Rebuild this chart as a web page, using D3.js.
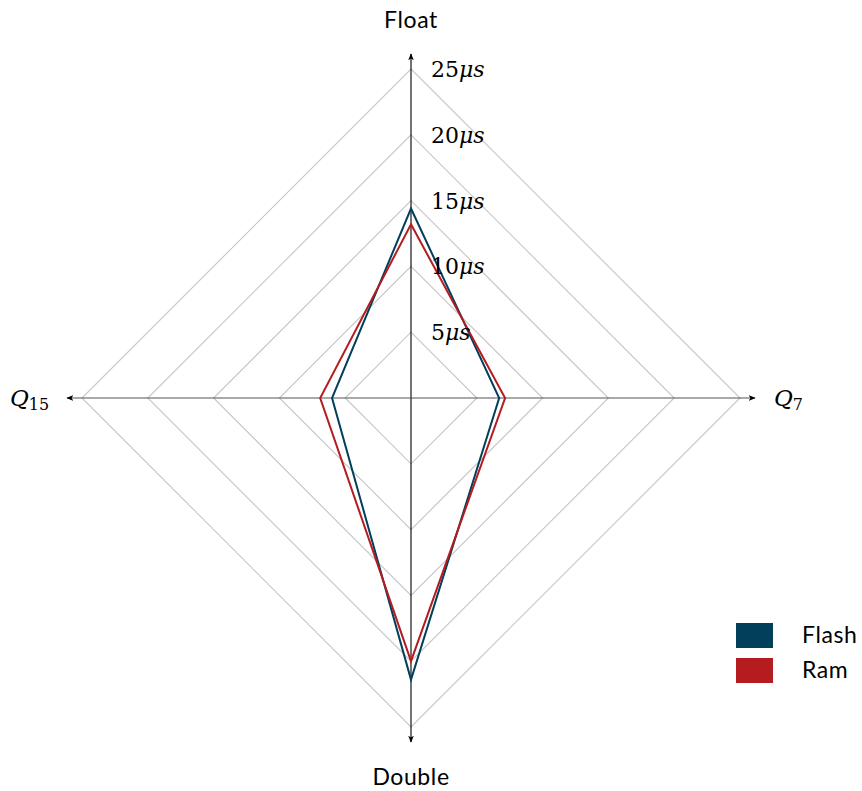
<!DOCTYPE html>
<html>
<head>
<meta charset="utf-8">
<script src="https://cdn.jsdelivr.net/npm/d3@7"></script>
<style>
  html, body { margin: 0; padding: 0; background: #fff; }
  svg { display: block; }
</style>
</head>
<body>
<svg id="chart" width="862" height="791"></svg>
<script>
// Execution time per benchmark, in microseconds
const axes = ["Float", "Q7", "Double", "Q15"];
const flash = [14.4, 6.7, 21.4, 6.0];
const ram = [13.2, 7.15, 20.0, 6.9];
const gridLevels = [5, 10, 15, 20, 25];
const tickLabels = ["5", "10", "15", "20", "25"];
const seriesNames = ["Flash", "Ram"];
const seriesColors = ["#023f5a", "#b41c1f"];

const svg = d3.select("#chart");
const cx = 411, cy = 398;
const r = d3.scaleLinear().domain([0, 25]).range([0, 329]);
const angle = d3.scaleLinear().domain([0, axes.length]).range([0, 2 * Math.PI]);

const pt = (i, v) => {
  const a = angle(i);
  return [cx + r(v) * Math.sin(a), cy - r(v) * Math.cos(a)];
};

const defs = svg.append("defs");
defs.append("marker")
  .attr("id", "arrow")
  .attr("viewBox", "0 0 10 10")
  .attr("refX", 9).attr("refY", 5)
  .attr("markerWidth", 7).attr("markerHeight", 7)
  .attr("markerUnits", "userSpaceOnUse")
  .attr("orient", "auto")
  .append("path")
  .attr("d", "M0,1 L10,5 L0,9 L2.5,5 Z")
  .attr("fill", "#000");

// Grid rings
const ring = d3.line();
svg.append("g").selectAll("path")
  .data(gridLevels)
  .join("path")
  .attr("d", lv => ring(axes.map((_, i) => pt(i, lv))) + "Z")
  .attr("fill", "none")
  .attr("stroke", "#c6c6c6")
  .attr("stroke-width", 1.1);

// Axes with arrow heads
const over = r.invert(r(25) + 15);
svg.append("g").selectAll("line")
  .data(axes)
  .join("line")
  .attr("x1", cx).attr("y1", cy)
  .attr("x2", (_, i) => pt(i, over)[0])
  .attr("y2", (_, i) => pt(i, over)[1])
  .attr("stroke", (_, i) => i % 2 ? "#555" : "#000")
  .attr("stroke-width", 1.1)
  .attr("marker-end", "url(#arrow)");

// Series polygons
const series = [flash, ram];
svg.append("g").selectAll("path")
  .data(series)
  .join("path")
  .attr("d", vals => ring(vals.map((v, i) => pt(i, v))) + "Z")
  .attr("fill", "none")
  .attr("stroke", (_, k) => seriesColors[k])
  .attr("stroke-width", 2)
  .attr("stroke-linejoin", "miter");

// Tick labels along the top axis
const serif = "'DejaVu Serif', 'Liberation Serif', serif";
const ticks = svg.append("g")
  .attr("font-family", serif)
  .attr("font-size", 22);
ticks.selectAll("text")
  .data(gridLevels)
  .join("text")
  .attr("x", cx + 20)
  .attr("y", lv => pt(0, lv)[1] + 8)
  .each(function (lv, i) {
    const t = d3.select(this);
    t.append("tspan").text(tickLabels[i]);
    t.append("tspan").attr("font-style", "italic").text("μs");
  });

// Axis titles
const sans = "Lato, 'Open Sans', sans-serif";
const titleStyle = sel => sel
  .attr("text-anchor", "middle").attr("font-family", sans)
  .attr("font-size", 23).attr("letter-spacing", 0.6);
svg.append("text").attr("x", cx).attr("y", 28).call(titleStyle).text(axes[0]);
svg.append("text").attr("x", cx).attr("y", 785).call(titleStyle).text(axes[2]);

const q7 = svg.append("text").attr("x", 774).attr("y", 406)
  .attr("font-family", serif).attr("font-size", 23);
q7.append("tspan").attr("font-style", "italic").text("Q");
q7.append("tspan").attr("font-size", 16).attr("dy", 4).text("7");

const q15 = svg.append("text").attr("x", 10).attr("y", 406)
  .attr("font-family", serif).attr("font-size", 23);
q15.append("tspan").attr("font-style", "italic").text("Q");
q15.append("tspan").attr("font-size", 16).attr("dy", 4).text("15");

// Legend
const legend = svg.append("g").attr("transform", "translate(736,623)");
const item = legend.selectAll("g")
  .data(seriesNames)
  .join("g")
  .attr("transform", (_, k) => `translate(0,${k * 35})`);
item.append("rect")
  .attr("width", 37).attr("height", 25)
  .attr("fill", (_, k) => seriesColors[k]);
item.append("text")
  .attr("x", 66).attr("y", 20)
  .attr("font-family", sans).attr("font-size", 23).attr("letter-spacing", 0.6)
  .text(d => d);
</script>
</body>
</html>
